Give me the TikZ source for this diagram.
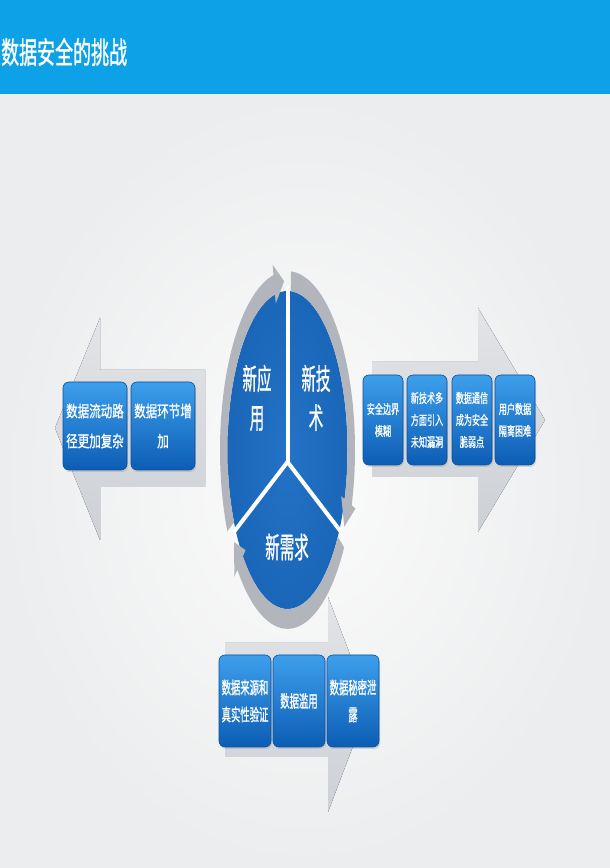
\documentclass[tikz,border=0pt]{standalone}
\usepackage{fontspec}
\setmainfont{Noto Sans CJK SC}
\newfontfamily\cjkb[FakeBold=1.2]{Noto Sans CJK SC}
\usetikzlibrary{arrows.meta,shadows}
\definecolor{banner}{HTML}{0DA2E7}
\definecolor{bgc}{HTML}{ECEDEE}
\definecolor{boxtop}{HTML}{3D9FEC}
\definecolor{boxbot}{HTML}{0C5DB4}
\definecolor{boxline}{HTML}{0A4F9C}
\definecolor{circin}{HTML}{2473C6}
\definecolor{circout}{HTML}{1A66B8}
\definecolor{ringgray}{HTML}{B2B6BC}
\definecolor{arrtop}{HTML}{E2E4E7}
\definecolor{arrbot}{HTML}{CDD0D5}
\newcommand{\ringpiece}[2]{%
  \fill[ringgray] (#1:60) -- (#1:67.5) arc[start angle=#1, end angle={#2+9}, radius=67.5]
    -- ({#2+9}:71.5) -- (#2:63.75) -- ({#2+9}:56.5) -- ({#2+9}:60)
    arc[start angle={#2+9}, end angle=#1, radius=60] -- cycle;}
\begin{document}
\begin{tikzpicture}[x=1pt,y=1pt,
  bx/.style={rounded corners=6pt, top color=boxtop, bottom color=boxbot, draw=boxline, line width=0.6pt,
     inner sep=0pt, drop shadow={opacity=0.25, shadow xshift=1pt, shadow yshift=-2pt}},
  lt/.style={text=white, align=center, inner sep=0pt, font=\cjkb\fontsize{16}{30}\selectfont, xscale=0.72},
  rt/.style={text=white, align=center, inner sep=0pt, font=\cjkb\fontsize{13}{22}\selectfont, xscale=0.62},
  bt/.style={text=white, align=center, inner sep=0pt, font=\cjkb\fontsize{17}{27}\selectfont, xscale=0.55},
  ct/.style={text=white, align=center, inner sep=0pt, font=\cjkb\fontsize{29}{39}\selectfont, xscale=0.5},
  bigarrow/.style={top color=arrtop, bottom color=arrbot}]
\useasboundingbox (0,0) rectangle (610,868);
% background
\fill[bgc] (0,0) rectangle (610,868);
\shade[inner color=white!80!bgc, outer color=bgc] (0,0) rectangle (610,774);
\fill[banner] (0,774) rectangle (610,868);
\node[anchor=west, text=white, inner sep=0pt, font=\cjkb\fontsize{30}{30}\selectfont, xscale=0.6] (title) at (1,816) {数据安全的挑战};
% big gray arrows
\fill[bigarrow] (55,440) -- (100,550) -- (100,498) -- (205,498) -- (205,381) -- (100,381) -- (100,328) -- cycle;
\fill[bigarrow] (372,506) -- (478,506) -- (478,560) -- (545,448) -- (478,336) -- (478,391) -- (372,391) -- cycle;
\fill[bigarrow] (225,225) -- (328,225) -- (328,271) -- (369,164) -- (328,56) -- (328,111) -- (225,111) -- cycle;
% central cycle
\begin{scope}[shift={(287.5,418)}, yscale=2.65]
  \shade[inner color=circin, outer color=circout] (0,0) circle (60);
  \draw[white, line width=4pt] (0,-4.5) -- (90:62);
  \draw[white, line width=4pt] (0,-4.5) -- (210:62);
  \draw[white, line width=4pt] (0,-4.5) -- (330:62);
  \ringpiece{207}{93}
  \ringpiece{87}{-27}
  \ringpiece{327}{213}
\end{scope}
\node[ct] (app) at (257,470) {新应\\用};
\node[ct] (tech) at (316,470) {新技\\术};
\node[ct] (need) at (287,321) {新需求};
% left boxes
\node[bx, minimum width=64pt, minimum height=88pt] (l1) at (95,442) {};
\node[bx, minimum width=64pt, minimum height=88pt] (l2) at (163,442) {};
\node[lt] (l1t) at (l1) {数据流动路\\径更加复杂};
\node[lt] (l2t) at (l2) {数据环节增\\加};
% right boxes
\node[bx, minimum width=40pt, minimum height=90pt] (r1) at (383,448) {};
\node[bx, minimum width=40pt, minimum height=90pt] (r2) at (427,448) {};
\node[bx, minimum width=40pt, minimum height=90pt] (r3) at (472,448) {};
\node[bx, minimum width=40pt, minimum height=90pt] (r4) at (515,448) {};
\node[rt] (r1t) at (r1) {安全边界\\模糊};
\node[rt] (r2t) at (r2) {新技术多\\方面引入\\未知漏洞};
\node[rt] (r3t) at (r3) {数据通信\\成为安全\\脆弱点};
\node[rt] (r4t) at (r4) {用户数据\\隔离困难};
% bottom boxes
\node[bx, minimum width=52pt, minimum height=92pt] (b1) at (245,167) {};
\node[bx, minimum width=52pt, minimum height=92pt] (b2) at (299,167) {};
\node[bx, minimum width=52pt, minimum height=92pt] (b3) at (353,167) {};
\node[bt] (b1t) at (b1) {数据来源和\\真实性验证};
\node[bt] (b2t) at (b2) {数据滥用};
\node[bt] (b3t) at (b3) {数据秘密泄\\露};
\end{tikzpicture}
\end{document}
